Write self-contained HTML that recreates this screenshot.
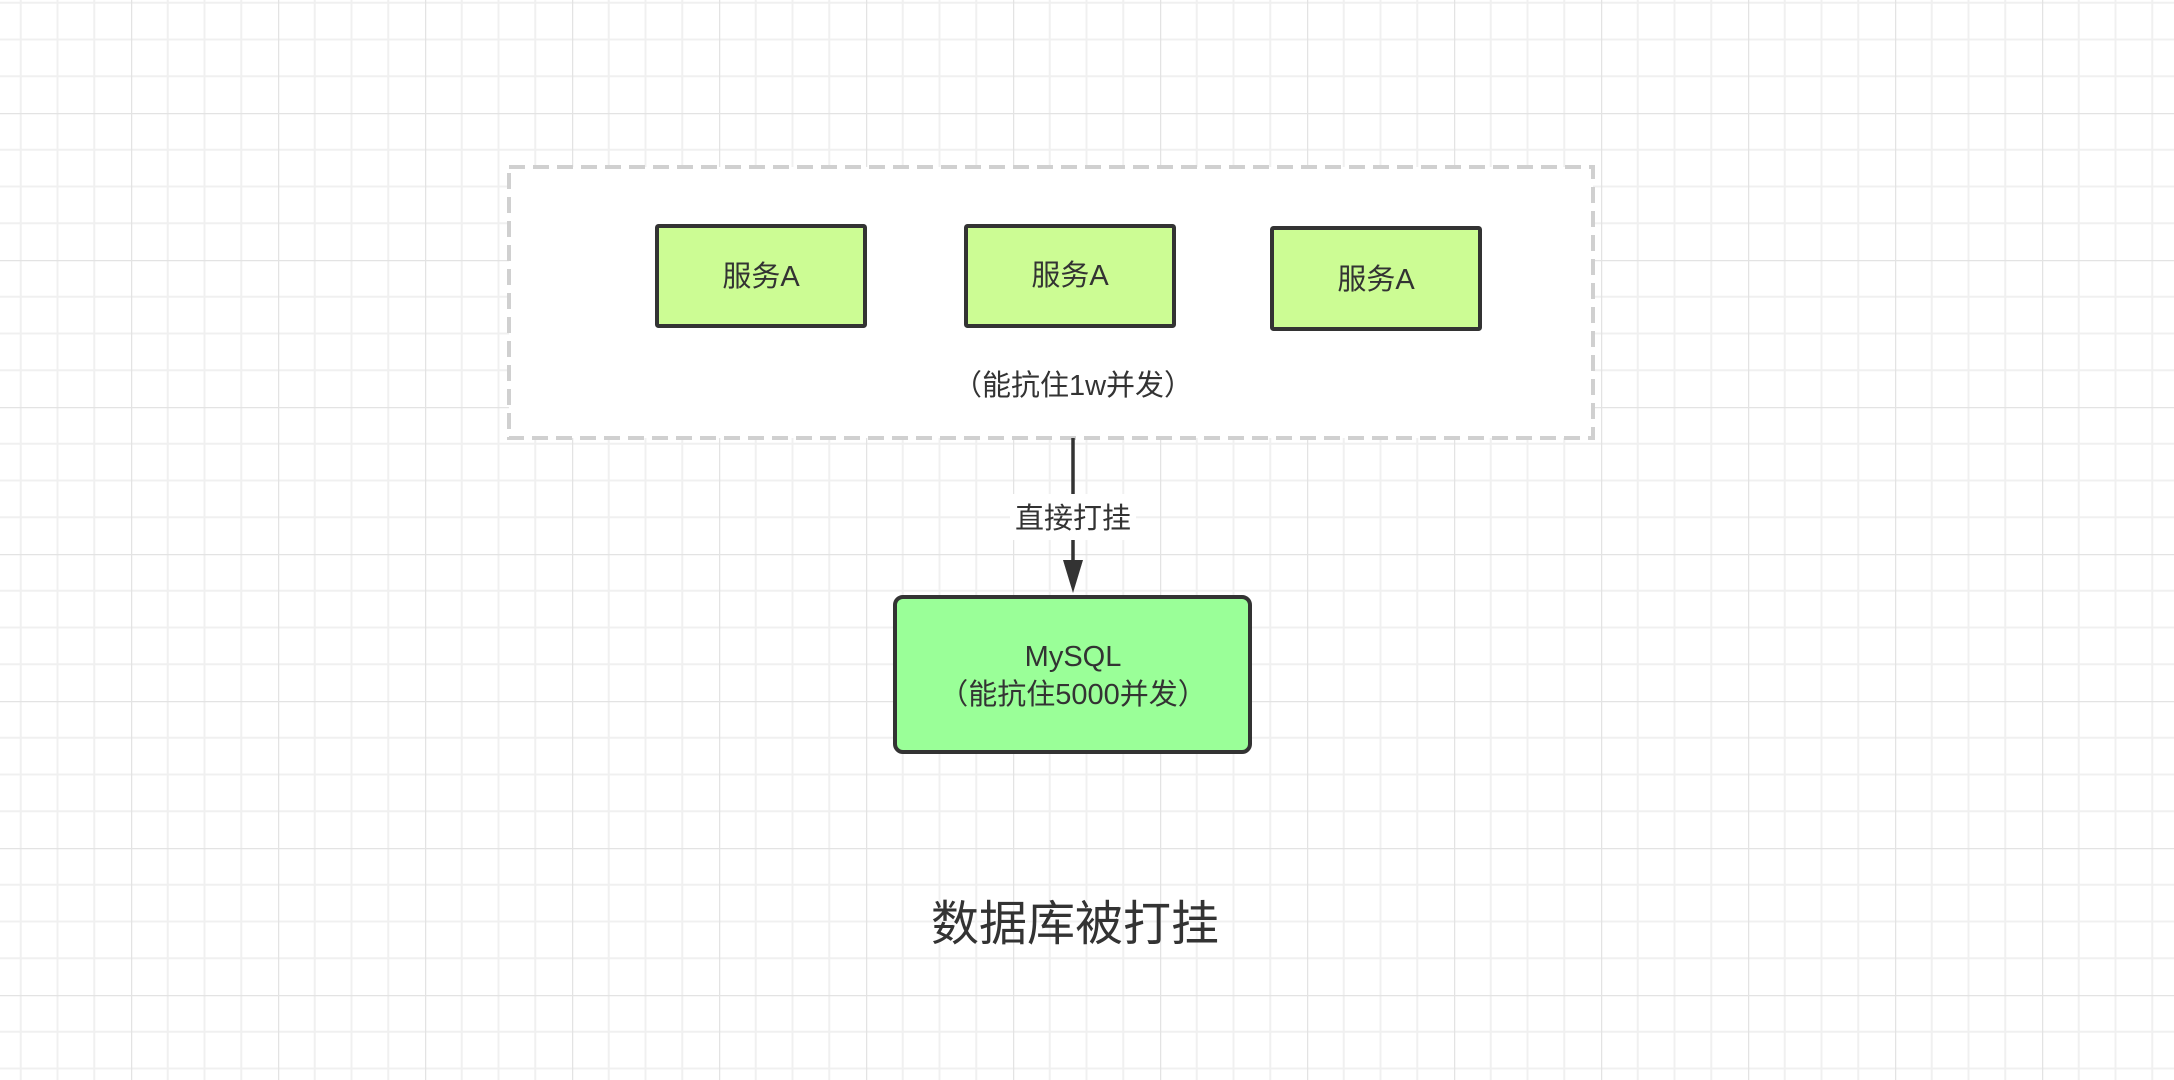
<!DOCTYPE html>
<html><head><meta charset="utf-8"><style>
html,body{margin:0;padding:0;width:2174px;height:1080px;overflow:hidden;background:#fff;}
svg{display:block}
text{font-family:"Liberation Sans","Noto Sans CJK SC",sans-serif;fill:#333;}
</style></head><body>
<svg width="2174" height="1080" viewBox="0 0 2174 1080" xmlns="http://www.w3.org/2000/svg">
<defs>
<pattern id="g" x="131" y="113" width="147" height="147" patternUnits="userSpaceOnUse">
<path d="M36.75 0V147M73.5 0V147M110.25 0V147M0 36.75H147M0 73.5H147M0 110.25H147" stroke="#f0f0f0" stroke-width="2"/>
<path d="M0 0V147M0 0H147" stroke="#e3e3e3" stroke-width="2.5"/>
</pattern>
</defs>
<rect width="2174" height="1080" fill="url(#g)"/>
<rect x="509" y="167" width="1084" height="271" fill="#fff" stroke="#d0d0d0" stroke-width="4" stroke-dasharray="16,8"/>
<rect x="657" y="226" width="208" height="100" fill="#ccfc94" stroke="#333" stroke-width="4" rx="1.5"/>
<rect x="966" y="226" width="208" height="100" fill="#ccfc94" stroke="#333" stroke-width="4" rx="1.5"/>
<rect x="1272" y="228" width="208" height="101" fill="#ccfc94" stroke="#333" stroke-width="4" rx="1.5"/>
<text x="761" y="286" font-size="29" text-anchor="middle">服务A</text>
<text x="1070" y="285" font-size="29" text-anchor="middle">服务A</text>
<text x="1376" y="289" font-size="29" text-anchor="middle">服务A</text>
<text x="1073" y="395" font-size="29" text-anchor="middle">（能抗住1w并发）</text>
<line x1="1073" y1="438" x2="1073" y2="565" stroke="#333" stroke-width="3.5"/>
<rect x="1010" y="494" width="126" height="46" fill="#fff"/>
<text x="1073" y="528" font-size="29" text-anchor="middle">直接打挂</text>
<polygon points="1063,560 1083,560 1073,593" fill="#333"/>
<rect x="895" y="597" width="355" height="155" rx="8" fill="#9aff98" stroke="#333" stroke-width="4"/>
<text x="1073" y="666" font-size="29" text-anchor="middle">MySQL</text>
<text x="1073" y="704" font-size="29" text-anchor="middle">（能抗住5000并发）</text>
<text x="1075" y="940" font-size="48" text-anchor="middle">数据库被打挂</text>
</svg>
</body></html>
